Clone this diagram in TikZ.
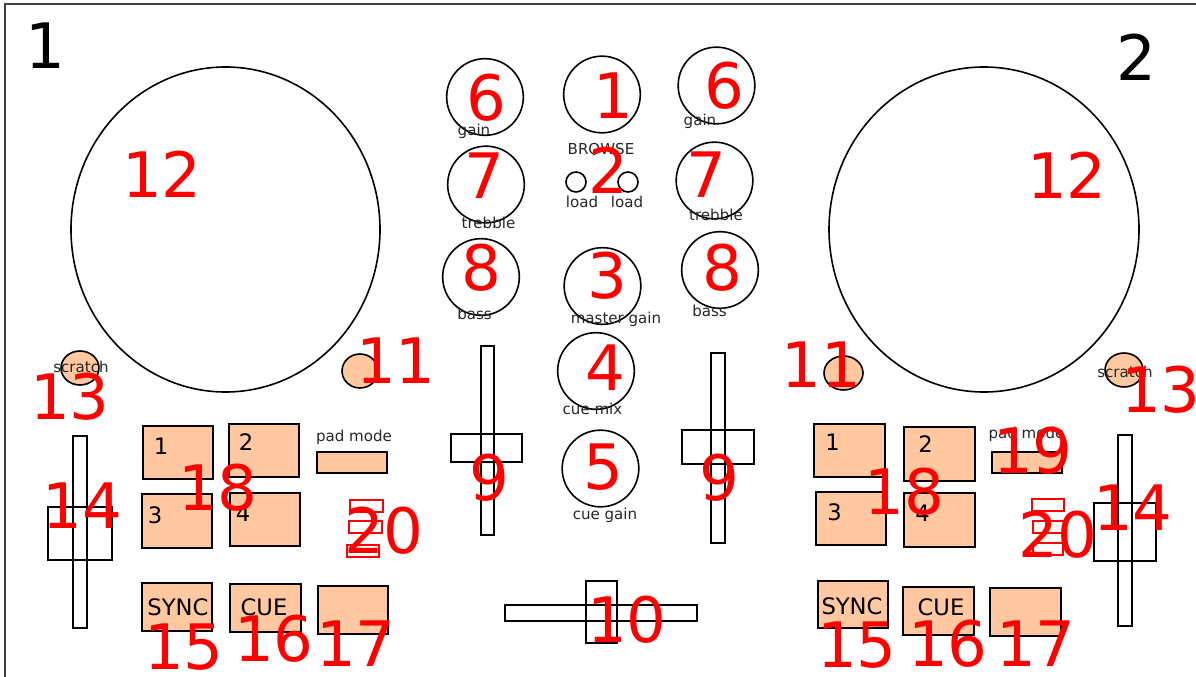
\documentclass[tikz,border=0pt]{standalone}
\usepackage{fontspec}
\setmainfont{DejaVu Sans}
\definecolor{peach}{RGB}{255,200,160}
\definecolor{numred}{RGB}{255,0,0}
\begin{document}
\begin{tikzpicture}[x=0.75pt,y=0.75pt,
 part/.style={draw=black,line width=1.2pt},
 knob/.style={circle,draw=black,line width=1.2pt,minimum size=57.5pt,inner sep=0pt},
 btn/.style={draw=black,line width=1.2pt,fill=peach},
 led/.style={draw=red,line width=1pt},
 num/.style={text=numred,font=\fontsize{47}{47}\selectfont,inner sep=0pt},
 big/.style={text=black,font=\fontsize{47}{47}\selectfont,inner sep=0pt},
 lbl/.style={text=black!85,font=\fontsize{11.3}{12}\selectfont,inner sep=0pt},
 padtxt/.style={text=black,font=\fontsize{17}{18}\selectfont,inner sep=0pt},
]
\useasboundingbox (0,0) rectangle (1196,-677);
\draw[line width=1.5pt,black!75] (5,-677) -- (5,-4) -- (1196,-4);

% jog wheels
\draw[part] (225.5,-229.5) ellipse [x radius=154.5, y radius=162.5];
\draw[part] (984,-229.5) ellipse [x radius=155, y radius=162.5];

% knobs
\node[knob] (k6l) at (485,-97) {};
\node[knob] (k1)  at (602,-94.5) {};
\node[knob] (k6r) at (716.5,-85.5) {};
\node[knob] (k7l) at (486,-184.5) {};
\node[knob] (k7r) at (714.5,-180.5) {};
\node[knob] (k8l) at (481,-277) {};
\node[knob] (k3)  at (602.5,-286) {};
\node[knob] (k8r) at (720,-270) {};
\node[knob] (k4)  at (596,-371) {};
\node[knob] (k5)  at (600.5,-468.5) {};
\draw[part] (576,-182) circle [radius=10];
\draw[part] (628,-182) circle [radius=10];

% channel faders
\draw[part] (481,-346) rectangle (494,-535);
\draw[part] (451,-434) rectangle (522,-462);
\draw[part] (711,-353) rectangle (725,-543);
\draw[part] (682,-430) rectangle (754,-464);
% crossfader
\draw[part] (505,-605) rectangle (697,-621);
\draw[part] (586,-581) rectangle (617,-643);
% pitch faders
\draw[part] (73,-436) rectangle (87,-628);
\draw[part] (48,-507) rectangle (112,-560);
\draw[part] (1118,-435) rectangle (1132,-626);
\draw[part] (1094,-503) rectangle (1156,-561);

% round buttons
\draw[btn] (80,-368) ellipse [x radius=19, y radius=17];
\draw[btn] (360,-371) ellipse [x radius=18, y radius=17];
\draw[btn] (843.5,-373) ellipse [x radius=19.5, y radius=17];
\draw[btn] (1124,-370) ellipse [x radius=19, y radius=17];

% pads left
\draw[btn] (143,-426) rectangle (213,-479);
\draw[btn] (229,-424) rectangle (299,-477);
\draw[btn] (142,-494) rectangle (212,-548);
\draw[btn] (230,-493) rectangle (300,-546);
\draw[btn] (317,-452) rectangle (387,-473);
\draw[btn] (142,-583) rectangle (212,-631);
\draw[btn] (230,-584) rectangle (301,-632);
\draw[btn] (318,-586) rectangle (388,-634);
% pads right
\draw[btn] (814,-424) rectangle (885,-477);
\draw[btn] (904,-427) rectangle (975,-481);
\draw[btn] (816,-492) rectangle (886,-545);
\draw[btn] (904,-493) rectangle (975,-547);
\draw[btn] (992,-452) rectangle (1062,-473);
\draw[btn] (818,-581) rectangle (888,-628);
\draw[btn] (903,-587) rectangle (974,-635);
\draw[btn] (990,-588) rectangle (1061,-636);

% LEDs
\draw[led] (350,-500) rectangle (383,-512);
\draw[led] (349,-521) rectangle (382,-533);
\draw[led] (347,-545) rectangle (379,-557);
\draw[led] (1032,-499) rectangle (1064,-511);
\draw[led] (1033,-521) rectangle (1064,-533);
\draw[led] (1033,-543) rectangle (1063,-555);

% small labels
\node[lbl] (tgainl) at (474,-131) {gain};
\node[lbl] (tgainr) at (700,-121) {gain};
\node[lbl] (tbrowse) at (601,-149) {BROWSE};
\node[lbl] (tloadl) at (582,-202) {load};
\node[lbl] (tloadr) at (627,-202) {load};
\node[lbl] (ttrebl) at (488.5,-223) {trebble};
\node[lbl] (ttrebr) at (716,-215) {trebble};
\node[lbl] (tbassl) at (474.5,-314) {bass};
\node[lbl] (tbassr) at (709.5,-311) {bass};
\node[lbl] (tmaster) at (616,-319) {master gain};
\node[lbl] (tcuemix) at (592.5,-409) {cue mix};
\node[lbl] (tcuegain) at (605,-515) {cue gain};
\node[lbl] (tscrl) at (81,-367) {scratch};
\node[lbl] (tscrr) at (1125,-372) {scratch};
\node[lbl] (tpml) at (354,-437) {pad mode};
\node[lbl] (tpmr) at (1026.5,-434) {pad mode};

% pad texts
\node[padtxt] (p1l) at (161,-446) {1};
\node[padtxt] (p2l) at (246,-442) {2};
\node[padtxt] (p3l) at (155,-515) {3};
\node[padtxt] (p4l) at (243,-513) {4};
\node[padtxt] (p1r) at (832.5,-442) {1};
\node[padtxt] (p2r) at (925.5,-444) {2};
\node[padtxt] (p3r) at (834.5,-512) {3};
\node[padtxt] (p4r) at (922.5,-513) {4};
\node[padtxt] (syncl) at (178,-607) {SYNC};
\node[padtxt] (cuel) at (264,-607) {CUE};
\node[padtxt] (syncr) at (852,-606) {SYNC};
\node[padtxt] (cuer) at (941,-607) {CUE};

% deck numbers
\node[big] (deck1) at (45,-46) {1};
\node[big] (deck2) at (1136,-57) {2};

% red callout numbers
\node[num] (n12l) at (162,-174) {12};
\node[num] (n12r) at (1067,-175) {12};
\node[num] (n6l) at (486,-98) {6};
\node[num] (n1) at (613,-95.5) {1};
\node[num] (n6r) at (724,-86) {6};
\node[num] (n2) at (608,-170) {2};
\node[num] (n7l) at (484.5,-175.5) {7};
\node[num] (n7r) at (706,-175) {7};
\node[num] (n8l) at (481.5,-268) {8};
\node[num] (n3) at (607.5,-276) {3};
\node[num] (n8r) at (722,-268) {8};
\node[num] (n4) at (605.5,-368) {4};
\node[num] (n5) at (603,-467) {5};
\node[num] (n9l) at (489,-478) {9};
\node[num] (n9r) at (719,-478) {9};
\node[num] (n10) at (627,-620) {10};
\node[num] (n11l) at (396,-361) {11};
\node[num] (n11r) at (821.5,-364.5) {11};
\node[num] (n13l) at (70,-397) {13};
\node[num] (n13r) at (1161,-390) {13};
\node[num] (n14l) at (82.5,-505.5) {14};
\node[num] (n14r) at (1133,-507.5) {14};
\node[num] (n18l) at (218,-487.5) {18};
\node[num] (n18r) at (904.5,-491.5) {18};
\node[num] (n19) at (1033,-450.5) {19};
\node[num] (n20l) at (384,-531) {20};
\node[num] (n20r) at (1058,-535) {20};
\node[num] (n15l) at (184,-647.5) {15};
\node[num] (n16l) at (274,-639) {16};
\node[num] (n17l) at (356,-644) {17};
\node[num] (n15r) at (857,-645) {15};
\node[num] (n16r) at (948,-644) {16};
\node[num] (n17r) at (1036,-644) {17};
\end{tikzpicture}
\end{document}
